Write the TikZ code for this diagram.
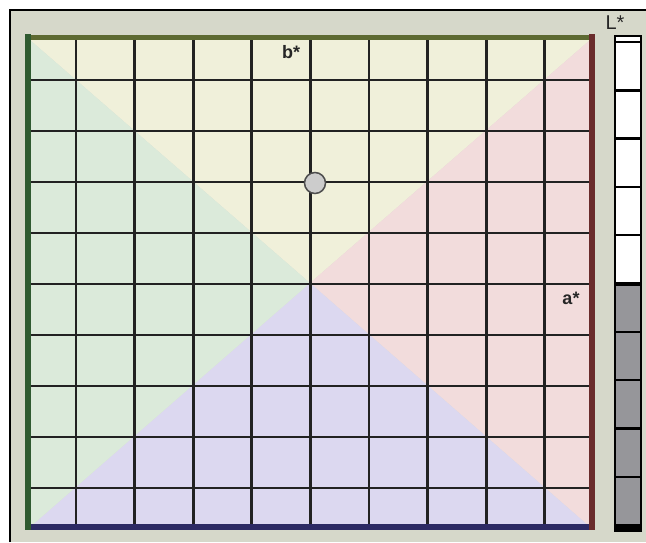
\documentclass[tikz,border=0pt]{standalone}
\usepackage{fontspec}
\setmainfont{Liberation Sans}
\definecolor{framebg}{HTML}{D6D8CA}
\definecolor{cyel}{HTML}{F0F0DA}
\definecolor{cred}{HTML}{F2DCDC}
\definecolor{cblu}{HTML}{DCD8F0}
\definecolor{cgrn}{HTML}{DBEADA}
\definecolor{egrn}{HTML}{2F5A30}
\definecolor{eyel}{HTML}{5E6A32}
\definecolor{ered}{HTML}{6A2C2C}
\definecolor{eblu}{HTML}{2C2A64}
\definecolor{gridc}{HTML}{222222}
\definecolor{lgray}{HTML}{96969A}
\tikzset{
  gridline/.style={draw=gridc,line width=2.8pt},
  axislabel/.style={font=\bfseries\fontsize{18}{18}\selectfont,inner sep=0pt,text=black!85},
  barline/.style={draw=black,line width=2.4pt}
}
\begin{document}
\begin{tikzpicture}[x=1pt,y=-1pt]
\useasboundingbox (0,0) rectangle (646,542);
\fill[white] (0,0) rectangle (646,542);
% frame
\fill[framebg] (10,10) rectangle (646,542);
\draw[black,line width=1.5pt] (10,542) -- (10,10) -- (646,10);
% colored triangles
\coordinate (tl) at (30,40);
\coordinate (tr) at (590,40);
\coordinate (br) at (590,527);
\coordinate (bl) at (30,527);
\coordinate (c) at (310,283);
\fill[cyel] (tl) -- (tr) -- (c) -- cycle;
\fill[cred] (tr) -- (br) -- (c) -- cycle;
\fill[cblu] (br) -- (bl) -- (c) -- cycle;
\fill[cgrn] (bl) -- (tl) -- (c) -- cycle;
% grid lines
\foreach \k in {0,...,8} {
  \draw[gridline] (76+58.6*\k,40) -- (76+58.6*\k,527);
  \draw[gridline] (30,80+51*\k) -- (590,80+51*\k);
}
% edges
\draw[eyel,line width=5pt] (28,37) -- (592,37);
\draw[eblu,line width=6pt] (28,527) -- (592,527);
\draw[egrn,line width=6pt] (28,34) -- (28,530);
\draw[ered,line width=6pt] (592,34) -- (592,530);
% marker
\node[circle,draw=gridc!80,fill=gray!40,line width=1.5pt,minimum size=21pt,inner sep=0pt] (m) at (315,183) {};
% labels
\node[axislabel] (b) at (291,52) {b*};
\node[axislabel] (a) at (571,298) {a*};
\node[axislabel,font=\fontsize{20}{20}\selectfont] (L) at (615,23) {L*};
% L* bar
\fill[white] (615,36) rectangle (641,284);
\fill[lgray] (615,284) rectangle (641,528);
\foreach \k in {1,...,9} {
  \draw[barline] (615,42+48.3*\k) -- (641,42+48.3*\k);
}
\draw[barline] (615,42) -- (641,42);
\draw[black,line width=4pt] (615,284) -- (641,284);
\draw[black,line width=2pt] (615,36) rectangle (641,531);
\fill[black] (615,524) rectangle (641,531);
\end{tikzpicture}
\end{document}
